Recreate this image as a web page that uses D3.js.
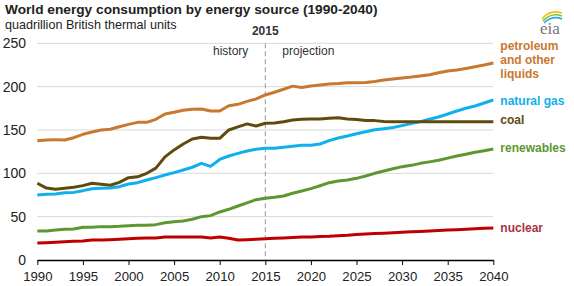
<!DOCTYPE html>
<html>
<head>
<meta charset="utf-8">
<script src="https://cdn.jsdelivr.net/npm/d3@7"></script>
<style>
  body { margin: 0; background: #fff; }
  svg { display: block; font-family: "Liberation Sans", Arial, sans-serif; }
</style>
</head>
<body>
<div id="chart"></div>
<script>
// World energy consumption by energy source, quadrillion Btu
const years = d3.range(1990, 2041);

const petroleum = [137.6, 138.5, 138.6, 138.5, 141.1, 145, 147.7, 150, 150.8, 153.8,
  156.5, 158.8, 158.8, 162.3, 168.4, 170.4, 172.7, 173.9, 174.2, 172,
  171.9, 178, 179.6, 183, 185.8, 190.4, 193.5, 197, 200.6, 199,
  200.8, 201.9, 203, 203.5, 204.4, 204.6, 204.9, 206, 207.7, 208.8,
  210, 211, 212.3, 213.8, 216, 218, 219.2, 221, 223, 225, 227.3];

const naturalGas = [75, 75.8, 76.2, 77.7, 78, 80, 82.3, 82.7, 83, 84.6,
  87.7, 89.2, 92.3, 95, 98, 100.8, 103.8, 107, 111.5, 108,
  116, 120, 123, 125.8, 127.7, 128.8, 129, 130, 131.2, 132.3,
  132.3, 133.8, 137.7, 140.8, 143, 145.7, 148, 150.3, 151.5, 152.9,
  155, 157.3, 159.6, 162.3, 165, 168.4, 171.9, 175, 177.7, 181.1, 184.6];

const coal = [88.5, 83, 81.5, 82.7, 83.9, 85.8, 88.5, 87.3, 86.2, 89.6,
  95, 96, 100, 106, 119, 127, 133.8, 139.6, 141.5, 140.4,
  140.4, 150, 153.5, 157, 154.6, 157.7, 158, 159.6, 161.5, 162.3,
  162.7, 162.8, 163.5, 164.2, 162.7, 162, 161, 160.8, 159.8, 159.6,
  159.6, 159.6, 159.6, 159.6, 159.6, 159.6, 159.6, 159.6, 159.6, 159.6, 159.6];

const renewables = [33.5, 33.5, 34.6, 35.4, 35.8, 37.7, 37.7, 38.5, 38.5, 38.8,
  39.6, 40, 40, 40.8, 43, 44.2, 45, 47, 50, 51.2,
  55.4, 58.5, 62.3, 66, 69.6, 71.2, 72.3, 73.8, 77, 79.6,
  82.3, 85.7, 89.2, 91.2, 92.3, 94.2, 96.9, 100, 102.7, 105.3,
  107.7, 109.2, 111.5, 113.2, 115, 117.5, 120, 122, 124.2, 126, 128];

const nuclear = [19.5, 20, 20.5, 21, 21.5, 22, 23, 23, 23.5, 24,
  24.5, 25, 25.5, 25.5, 26.5, 26.5, 26.5, 26.5, 26.5, 25.5,
  26.5, 25, 23, 23.5, 24, 24.5, 25, 25.5, 26, 26.5,
  26.5, 27, 27.3, 28, 28.5, 29.5, 30, 30.5, 31, 31.5,
  32, 32.5, 33, 33.5, 34, 34.5, 35, 35.5, 36, 36.5, 37];

const seriesNames = ["petroleum", "natural gas", "coal", "renewables", "nuclear"];
const seriesValues = [petroleum, naturalGas, coal, renewables, nuclear];
const seriesColors = ["#c8782f", "#0fb0ec", "#5f4b0b", "#5d9732", "#c00000"];
const labelColors = ["#c8782f", "#0fb0ec", "#5f4b0b", "#5d9732", "#a9323e"];
const labelLines = [["petroleum", "and other", "liquids"], ["natural gas"], ["coal"], ["renewables"], ["nuclear"]];
const labelY = [50, 105, 124, 152, 232];

const xTicks = [1990, 1995, 2000, 2005, 2010, 2015, 2020, 2025, 2030, 2035, 2040];
const yTicks = [0, 50, 100, 150, 200, 250];
const splitYear = 2015;

const width = 574, height = 286;
const margin = { top: 43.3, right: 80.7, bottom: 26, left: 37.3 };

const svg = d3.select("#chart").append("svg")
    .attr("width", width)
    .attr("height", height);

const x = d3.scaleLinear()
    .domain([1990, 2040])
    .range([margin.left, width - margin.right]);

const y = d3.scaleLinear()
    .domain([0, 250])
    .range([height - margin.bottom, margin.top]);

// title + units
svg.append("text")
    .attr("x", 5).attr("y", 14)
    .attr("font-size", 13.7).attr("font-weight", "bold").attr("fill", "#222")
    .text("World energy consumption by energy source (1990-2040)");
svg.append("text")
    .attr("x", 5).attr("y", 28.5)
    .attr("font-size", 12.6).attr("fill", "#222")
    .text("quadrillion British thermal units");

// gridlines
svg.append("g")
    .selectAll("line")
    .data(yTicks.filter(d => d > 0))
    .join("line")
    .attr("x1", x(1990)).attr("x2", x(2040))
    .attr("y1", d => y(d)).attr("y2", d => y(d))
    .attr("stroke", "#d9d9d9").attr("stroke-width", 1);

// y labels
svg.append("g")
    .selectAll("text")
    .data(yTicks)
    .join("text")
    .attr("x", 26).attr("y", d => y(d) + 5)
    .attr("text-anchor", "end")
    .attr("font-size", 14).attr("fill", "#222")
    .text(d => d);

// x axis
const xAxis = svg.append("g")
    .attr("transform", `translate(0,${y(0)})`)
    .call(d3.axisBottom(x).tickValues(xTicks).tickFormat(d3.format("d")).tickSize(5).tickSizeOuter(0));
xAxis.select(".domain").attr("stroke", "#000").attr("stroke-width", 1.3);
xAxis.selectAll(".tick line").attr("stroke", "#000");
xAxis.selectAll(".tick text").attr("font-size", 13.2).attr("fill", "#222").attr("dy", "1em")
    .attr("font-family", "Liberation Sans, Arial, sans-serif");

// history / projection divider
svg.append("line")
    .attr("x1", x(splitYear)).attr("x2", x(splitYear))
    .attr("y1", y(250)).attr("y2", y(0))
    .attr("stroke", "#999").attr("stroke-width", 1)
    .attr("stroke-dasharray", "5,3");
svg.append("text")
    .attr("x", x(splitYear)).attr("y", 35)
    .attr("text-anchor", "middle")
    .attr("font-size", 12).attr("font-weight", "bold").attr("fill", "#333")
    .text("2015");
svg.append("text")
    .attr("x", x(splitYear) - 17).attr("y", 55)
    .attr("text-anchor", "end")
    .attr("font-size", 12).attr("fill", "#333")
    .text("history");
svg.append("text")
    .attr("x", x(splitYear) + 17).attr("y", 55)
    .attr("font-size", 12).attr("fill", "#333")
    .text("projection");

// lines
const line = d3.line()
    .x((d, i) => x(years[i]))
    .y(d => y(d));

svg.append("g")
    .selectAll("path")
    .data(seriesValues)
    .join("path")
    .attr("d", d => line(d))
    .attr("fill", "none")
    .attr("stroke", (d, i) => seriesColors[i])
    .attr("stroke-width", 3)
    .attr("stroke-linejoin", "round");

// series labels on the right
const labels = svg.append("g")
    .selectAll("text")
    .data(seriesNames)
    .join("text")
    .attr("x", x(2040) + 7)
    .attr("y", (d, i) => labelY[i])
    .attr("font-size", 12).attr("font-weight", "bold")
    .attr("fill", (d, i) => labelColors[i]);
labels.selectAll("tspan")
    .data((d, i) => labelLines[i])
    .join("tspan")
    .attr("x", x(2040) + 7)
    .attr("dy", (d, j) => j === 0 ? 0 : 14)
    .text(d => d);

// eia logo
const logo = svg.append("g").attr("transform", "translate(540,10)");
logo.append("path").attr("d", "M2,9 Q10,-1 22,3").attr("fill", "none").attr("stroke", "#f2c400").attr("stroke-width", 1.6);
logo.append("path").attr("d", "M3,11 Q11,2 22,6").attr("fill", "none").attr("stroke", "#7dbb42").attr("stroke-width", 1.6);
logo.append("path").attr("d", "M4,13 Q12,5 22,9").attr("fill", "none").attr("stroke", "#2aa7e0").attr("stroke-width", 1.6);
logo.append("text")
    .attr("x", 0).attr("y", 24)
    .attr("font-family", "Liberation Serif, serif").attr("font-size", 17).attr("fill", "#777")
    .text("eia");
</script>
</body>
</html>
